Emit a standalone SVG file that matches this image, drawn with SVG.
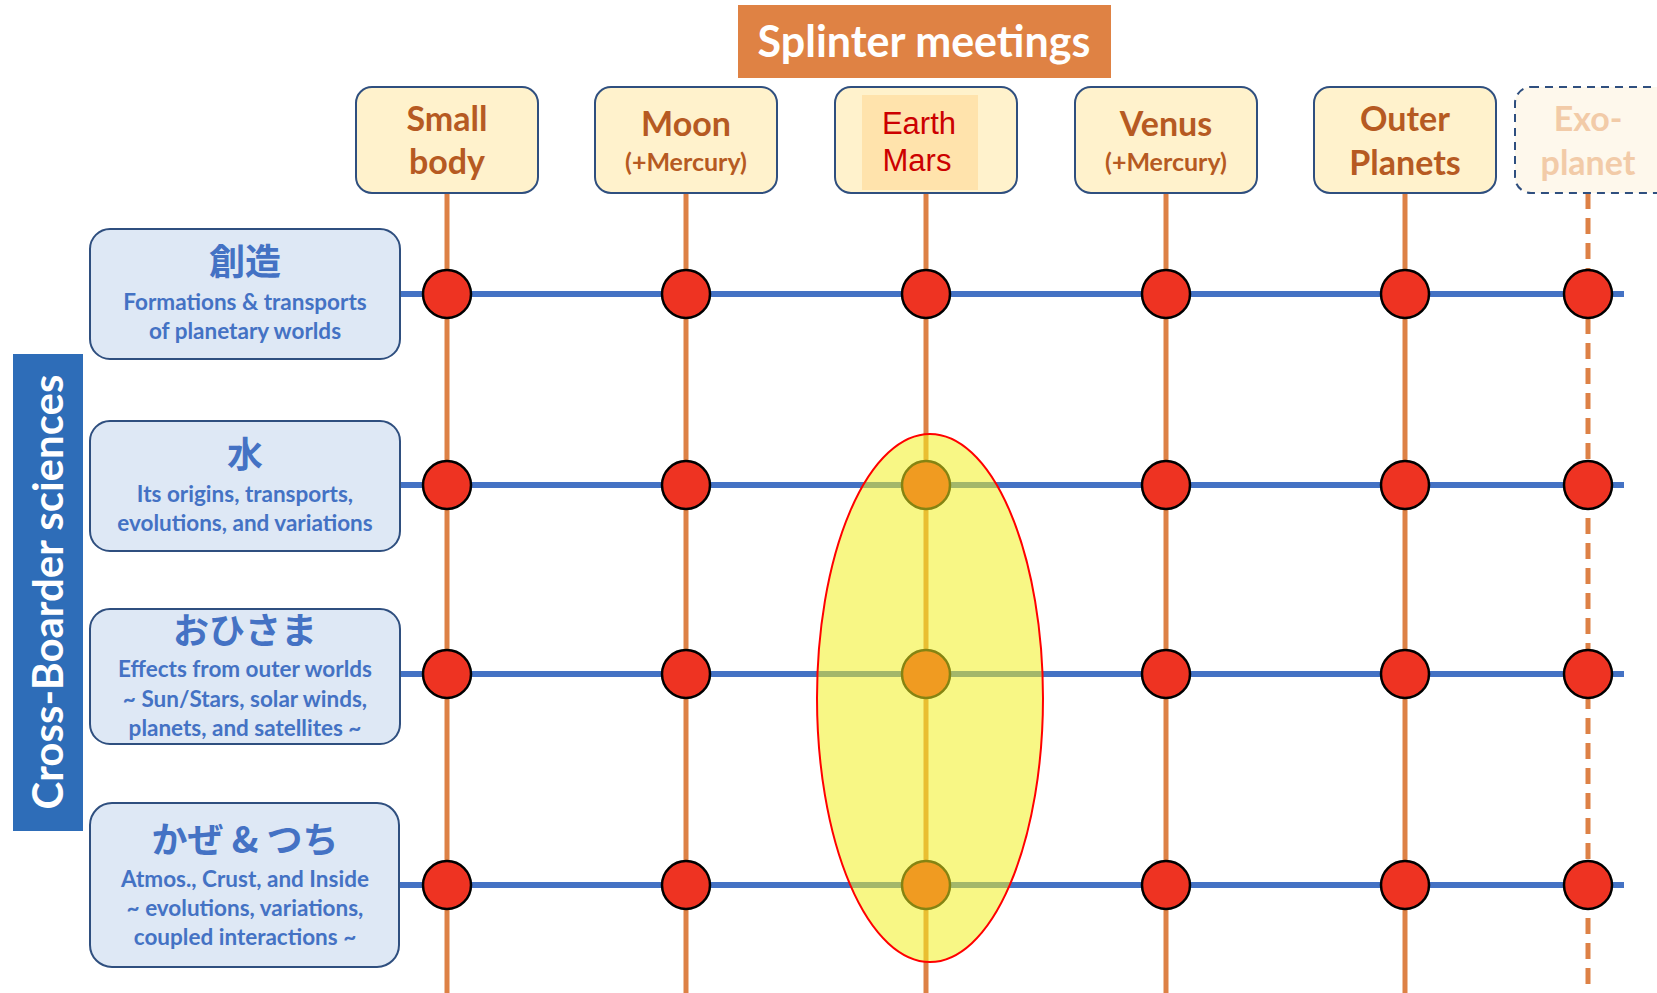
<svg xmlns="http://www.w3.org/2000/svg" width="1657" height="993" viewBox="0 0 1657 993">
<style>
.hdr{fill:#FFF2CC;stroke:#2F4F7F;stroke-width:2}
.hdt{font-family:Lato,"Open Sans",sans-serif;font-weight:bold;fill:#B65A22;text-anchor:middle}
.row{fill:#DEE8F5;stroke:#2F4F7F;stroke-width:2}
.rt{font-family:"Noto Sans CJK JP",sans-serif;font-weight:bold;fill:#4472C4;text-anchor:middle;font-size:36px}
.rs{font-family:Lato,"Open Sans",sans-serif;font-weight:bold;fill:#4472C4;text-anchor:middle;font-size:22.5px}
.vl{stroke:#DD8146;stroke-width:5;fill:none}
.hl{stroke:#4472C4;stroke-width:6;fill:none}
.dot{fill:#EE3322;stroke:#000;stroke-width:2.5}
</style>
<rect width="1657" height="993" fill="#fff"/>
<g id="connectors">
<line class="vl" x1="447" y1="193" x2="447" y2="993"/>
<line class="vl" x1="686" y1="193" x2="686" y2="993"/>
<line class="vl" x1="926" y1="193" x2="926" y2="993"/>
<line class="vl" x1="1166" y1="193" x2="1166" y2="993"/>
<line class="vl" x1="1405" y1="193" x2="1405" y2="993"/>
<line class="vl" x1="1588" y1="193" x2="1588" y2="993" stroke-dasharray="16,9"/>
<line class="hl" x1="400" y1="294" x2="1624" y2="294"/>
<line class="hl" x1="400" y1="485" x2="1624" y2="485"/>
<line class="hl" x1="400" y1="674" x2="1624" y2="674"/>
<line class="hl" x1="400" y1="885" x2="1624" y2="885"/>
</g>
<g id="intersections">
<circle class="dot" cx="447" cy="294" r="24"/><circle class="dot" cx="686" cy="294" r="24"/><circle class="dot" cx="926" cy="294" r="24"/><circle class="dot" cx="1166" cy="294" r="24"/><circle class="dot" cx="1405" cy="294" r="24"/><circle class="dot" cx="1588" cy="294" r="24"/>
<circle class="dot" cx="447" cy="485" r="24"/><circle class="dot" cx="686" cy="485" r="24"/><circle class="dot" cx="926" cy="485" r="24"/><circle class="dot" cx="1166" cy="485" r="24"/><circle class="dot" cx="1405" cy="485" r="24"/><circle class="dot" cx="1588" cy="485" r="24"/>
<circle class="dot" cx="447" cy="674" r="24"/><circle class="dot" cx="686" cy="674" r="24"/><circle class="dot" cx="926" cy="674" r="24"/><circle class="dot" cx="1166" cy="674" r="24"/><circle class="dot" cx="1405" cy="674" r="24"/><circle class="dot" cx="1588" cy="674" r="24"/>
<circle class="dot" cx="447" cy="885" r="24"/><circle class="dot" cx="686" cy="885" r="24"/><circle class="dot" cx="926" cy="885" r="24"/><circle class="dot" cx="1166" cy="885" r="24"/><circle class="dot" cx="1405" cy="885" r="24"/><circle class="dot" cx="1588" cy="885" r="24"/>
</g>
<g id="highlight">
<ellipse cx="930" cy="698" rx="113" ry="264" fill="#F2F020" fill-opacity="0.55" stroke="#FF0000" stroke-width="2"/>
</g>
<g id="title">
<rect x="738" y="5" width="373" height="73" fill="#DF8244"/>
<text x="924" y="57" font-family="Lato,'Open Sans',sans-serif" font-weight="bold" font-size="43" fill="#fff" text-anchor="middle">Splinter meetings</text>
</g>
<g id="col-small-body">
<rect class="hdr" x="356" y="87" width="182" height="106" rx="16"/>
<text class="hdt" x="447" y="131" font-size="34">Small</text>
<text class="hdt" x="447" y="174" font-size="34">body</text>
</g>
<g id="col-moon">
<rect class="hdr" x="595" y="87" width="182" height="106" rx="16"/>
<text class="hdt" x="686" y="136" font-size="34">Moon</text>
<text class="hdt" x="686" y="171" font-size="25">(+Mercury)</text>
</g>
<g id="col-earth-mars">
<rect class="hdr" x="835" y="87" width="182" height="106" rx="16"/>
<rect x="862" y="95" width="116" height="95" fill="#FFE3AC"/>
<text x="919" y="134" font-family="'Liberation Sans',Arial,sans-serif" font-size="31" fill="#CC0000" text-anchor="middle">Earth</text>
<text x="917" y="171" font-family="'Liberation Sans',Arial,sans-serif" font-size="31" fill="#CC0000" text-anchor="middle">Mars</text>
</g>
<g id="col-venus">
<rect class="hdr" x="1075" y="87" width="182" height="106" rx="16"/>
<text class="hdt" x="1166" y="136" font-size="34">Venus</text>
<text class="hdt" x="1166" y="171" font-size="25">(+Mercury)</text>
</g>
<g id="col-outer-planets">
<rect class="hdr" x="1314" y="87" width="182" height="106" rx="16"/>
<text class="hdt" x="1405" y="131" font-size="34">Outer</text>
<text class="hdt" x="1405" y="175" font-size="34">Planets</text>
</g>
<g id="col-exoplanet">
<rect x="1515" y="87" width="182" height="106" rx="16" fill="#FEF8EC" stroke="#2F4F7F" stroke-width="2" stroke-dasharray="8,6"/>
<text class="hdt" x="1588" y="131" font-size="34" style="fill:#F2CBA8">Exo-</text>
<text class="hdt" x="1588" y="175" font-size="34" style="fill:#F2CBA8">planet</text>
</g>
<g id="side-label">
<rect x="13" y="354" width="70" height="477" fill="#2E6DB8"/>
<text transform="translate(63,592) rotate(-90)" font-family="Lato,'Open Sans',sans-serif" font-weight="bold" font-size="42" fill="#fff" text-anchor="middle">Cross-Boarder sciences</text>
</g>
<g id="row-souzou">
<rect class="row" x="90" y="229" width="310" height="130" rx="20"/>
<text class="rt" x="245" y="275">創造</text>
<text class="rs" x="245" y="310">Formations &amp; transports</text>
<text class="rs" x="245" y="339">of planetary worlds</text>
</g>
<g id="row-mizu">
<rect class="row" x="90" y="421" width="310" height="130" rx="20"/>
<text class="rt" x="245" y="468">水</text>
<text class="rs" x="245" y="502">Its origins, transports,</text>
<text class="rs" x="245" y="531">evolutions, and variations</text>
</g>
<g id="row-ohisama">
<rect class="row" x="90" y="609" width="310" height="135" rx="20"/>
<text class="rt" x="245" y="644">おひさま</text>
<text class="rs" x="245" y="677">Effects from outer worlds</text>
<text class="rs" x="245" y="707">~ Sun/Stars, solar winds,</text>
<text class="rs" x="245" y="736">planets, and satellites ~</text>
</g>
<g id="row-kaze-tsuchi">
<rect class="row" x="90" y="803" width="309" height="164" rx="22"/>
<text class="rt" x="245" y="853">かぜ &amp; つち</text>
<text class="rs" x="245" y="887">Atmos., Crust, and Inside</text>
<text class="rs" x="245" y="916">~ evolutions, variations,</text>
<text class="rs" x="245" y="945">coupled interactions ~</text>
</g>
</svg>
